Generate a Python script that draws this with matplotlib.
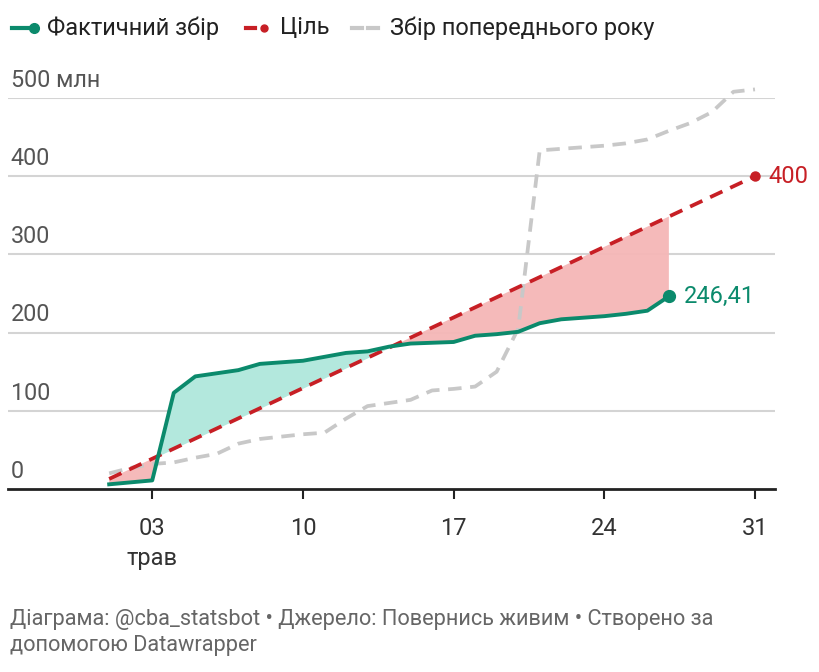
import numpy as np
import matplotlib
matplotlib.use("Agg")
import matplotlib.pyplot as plt

plt.rcParams['font.family'] = ['Roboto', 'DejaVu Sans']

# days of May
days = list(range(1, 28))
actual = [6, 8.5, 11, 123, 144, 148, 152, 160, 162, 164, 169, 174, 176, 182,
          186, 187, 188, 196, 198, 201, 212, 217, 219, 221, 224, 228, 246.41]

prev_days = list(range(1, 32))
prev_year = [20, 27, 32, 34, 40, 45, 58, 64, 67, 70, 72, 90, 106, 110, 114,
             126, 128, 131, 150, 205, 433, 435, 437, 439, 442, 447, 458, 468,
             482, 508, 511]

target_days = [1, 31]
target_vals = [12.9, 400]

xticks = [3, 10, 17, 24, 31]
xtick_labels = ["03\nтрав", "10", "17", "24", "31"]
yticks = [0, 100, 200, 300, 400, 500]
ytick_labels = ["0", "100", "200", "300", "400", "500 млн"]

GREEN = "#0b8a6c"
RED = "#c71f25"
GRAY = "#c8c8c8"
TEAL_FILL = "#b3e8dd"
PINK_FILL = "#f5b7b7"

W, H = 820, 672
fig = plt.figure(figsize=(8.2, 6.72), dpi=100)


def px(x0, y0, x1, y1):
    return [x0 / W, 1 - y1 / H, (x1 - x0) / W, (y1 - y0) / H]


ax = fig.add_axes(px(8, 98, 775, 489))
ax.set_xlim(-3.7, 31.93)
ax.set_ylim(0, 500)

for s in ["top", "right", "left"]:
    ax.spines[s].set_visible(False)
ax.spines["bottom"].set_linewidth(2)
ax.spines["bottom"].set_color("#222222")

for y in yticks[1:]:
    ax.axhline(y, color="#d4d4d4", lw=1.5, zorder=1)

ax.set_yticks([])
ax.set_xticks(xticks)
ax.set_xticklabels(xtick_labels, fontsize=17, color="#333333", linespacing=1.4)
ax.tick_params(axis="x", length=7, width=1.5, color="#222222", pad=13)

for y, lab in zip(yticks, ytick_labels):
    ax.annotate(lab, xy=(0, y), xycoords=("axes fraction", "data"),
                xytext=(2, 4.5), textcoords="offset points",
                fontsize=16.8, color="#555555", ha="left", va="bottom")

tgt = np.interp(days, target_days, target_vals)
act = np.array(actual)
ax.fill_between(days, act, tgt, where=act >= tgt, interpolate=True,
                color=TEAL_FILL, lw=0, zorder=2)
ax.fill_between(days, act, tgt, where=act < tgt, interpolate=True,
                color=PINK_FILL, lw=0, zorder=2, alpha=0.95)

ax.plot(prev_days, prev_year, color=GRAY, lw=2.7, dashes=(3.6, 2.3),
        zorder=3, clip_on=False)
ax.plot(target_days, target_vals, color=RED, lw=2.7, dashes=(3.6, 2.3), zorder=4)
ax.plot(target_days[-1], target_vals[-1], "o", color=RED, ms=6.5, zorder=5,
        clip_on=False)
ax.plot(days, actual, color=GREEN, lw=2.8, zorder=5, solid_joinstyle="round")
ax.plot(days[-1], actual[-1], "o", color=GREEN, ms=8.5, zorder=6)

ax.annotate("246,41", xy=(days[-1], actual[-1]), xytext=(11, 0),
            textcoords="offset points", fontsize=17, color=GREEN,
            ha="left", va="center")
ax.annotate("400", xy=(target_days[-1], target_vals[-1]), xytext=(10, 0),
            textcoords="offset points", fontsize=17, color=RED,
            ha="left", va="center", annotation_clip=False)

# overlay in pixel coordinates for legend and footer
ov = fig.add_axes([0, 0, 1, 1], zorder=-1)
ov.set_xlim(0, W)
ov.set_ylim(H, 0)
ov.axis("off")

ly = 28
ov.plot([12, 34], [ly, ly], color=GREEN, lw=3)
ov.plot(34, ly, "o", color=GREEN, ms=7)
ov.text(47, ly, "Фактичний збір", fontsize=17, color="#222222", va="center")
ov.plot([246, 255], [ly, ly], color=RED, lw=3)
ov.plot(264, ly, "o", color=RED, ms=5)
ov.text(280, ly, "Ціль", fontsize=17, color="#222222", va="center")
ov.plot([352, 362], [ly, ly], color=GRAY, lw=3)
ov.plot([368, 378], [ly, ly], color=GRAY, lw=3)
ov.text(390, ly, "Збір попереднього року", fontsize=17, color="#222222",
        va="center")

ov.text(10, 620, "Діаграма: @cba_statsbot • Джерело: Повернись живим • Створено за",
        fontsize=15.7, color="#666666", va="center")
ov.text(10, 646, "допомогою Datawrapper", fontsize=15.7, color="#666666",
        va="center")

fig.savefig("out.png", dpi=100)
